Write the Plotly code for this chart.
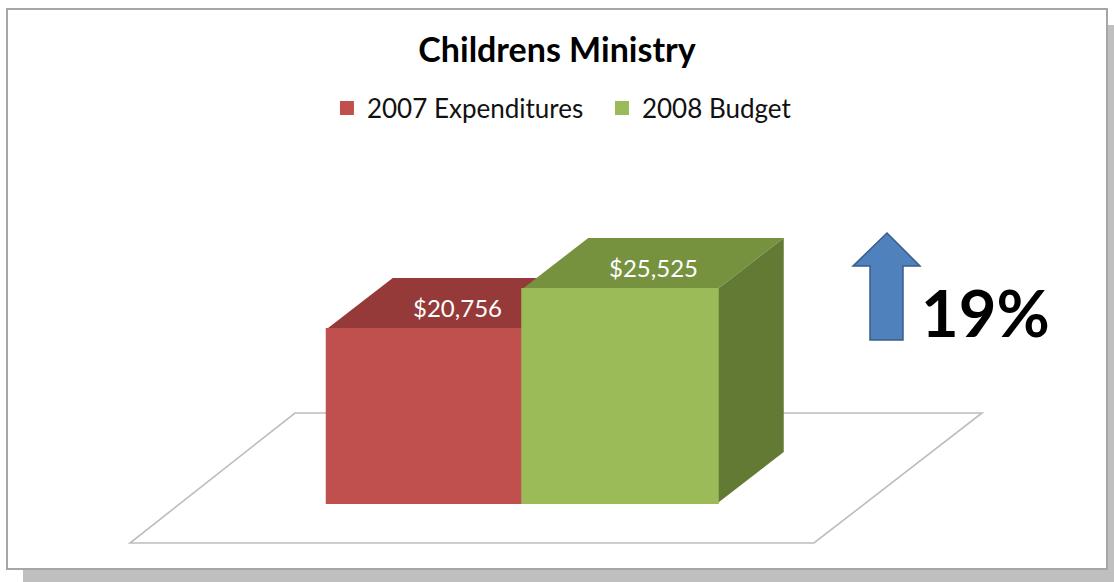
import plotly.graph_objects as go

# ---- data ----
categories = ["2007 Expenditures", "2008 Budget"]
values = [20756, 25525]
change_label = "19%"
title_text = "Childrens Ministry"

# ---- styles / layout constants ----
W, H = 1114, 582
FONT = "Lato"
front_colors = ["#C0504D", "#9BBB59"]
top_colors = ["#953A38", "#77923F"]
side_colors = ["#7E302E", "#637A34"]
X_RANGE = [-2.1714, 3.5269]
Y_RANGE = [-9423, 59995]
BAR_W = 1.0
DEPTH_PX = (66, 51)  # 3D depth offset in pixels (right, up)
DX = DEPTH_PX[0] / W * (X_RANGE[1] - X_RANGE[0])
DY = DEPTH_PX[1] / H * (Y_RANGE[1] - Y_RANGE[0])


def px(x, y):
    """pixel -> paper coords for decorations"""
    return x / W, 1 - y / H


def ppath(points):
    s = ""
    for i, (x, y) in enumerate(points):
        X, Y = px(x, y)
        s += ("M" if i == 0 else "L") + f"{X:.5f},{Y:.5f} "
    return s + "Z"


def dpath(points):
    s = ""
    for i, (x, y) in enumerate(points):
        s += ("M" if i == 0 else "L") + f"{x:.5f},{y:.3f} "
    return s + "Z"


fig = go.Figure()
positions = list(range(len(values)))
for i, (cat, v) in enumerate(zip(categories, values)):
    fig.add_trace(go.Bar(
        x=[positions[i]], y=[v], width=BAR_W, name=cat,
        marker=dict(color=front_colors[i], line=dict(color=front_colors[i], width=2)),
        hoverinfo="skip",
    ))

shapes = []
# drop shadow + frame
shapes.append(dict(type="path", xref="paper", yref="paper",
                   path=ppath([(23, 25), (1114, 25), (1114, 582), (23, 582)]),
                   fillcolor="#BFBFBF", line=dict(width=0), layer="below"))
shapes.append(dict(type="path", xref="paper", yref="paper",
                   path=ppath([(7, 9), (1107, 9), (1107, 569), (7, 569)]),
                   fillcolor="white", line=dict(color="#A6A6A6", width=2), layer="below"))
# floor
shapes.append(dict(type="path", xref="paper", yref="paper",
                   path=ppath([(295, 413), (982, 413), (814, 543), (130, 543)]),
                   fillcolor="white", line=dict(color="#BDBDBD", width=1.6), layer="below"))
# 3D tops / side
for i, v in enumerate(values):
    l = positions[i] - BAR_W / 2
    r = positions[i] + BAR_W / 2
    shapes.append(dict(type="path", xref="x", yref="y",
                       path=dpath([(l, v), (r, v), (r + DX, v + DY), (l + DX, v + DY)]),
                       fillcolor=top_colors[i], line=dict(width=0), layer="below"))
last = len(values) - 1
r = positions[last] + BAR_W / 2
v = values[last]
shapes.append(dict(type="path", xref="x", yref="y",
                   path=dpath([(r, 0), (r, v), (r + DX, v + DY), (r + DX, DY)]),
                   fillcolor=side_colors[last], line=dict(width=0), layer="below"))
# up arrow
shapes.append(dict(type="path", xref="paper", yref="paper",
                   path=ppath([(887, 233), (920, 266), (903, 266), (903, 340),
                               (870, 340), (870, 266), (853, 266)]),
                   fillcolor="#4F81BD", line=dict(color="#385D8A", width=1.5), layer="above"))

annotations = []
for i, v in enumerate(values):
    annotations.append(dict(
        x=positions[i] + DX / 2, y=v + DY / 2 - 500, xref="x", yref="y",
        xanchor="center", yanchor="middle",
        text=f"${v:,}", showarrow=False,
        font=dict(family=FONT, size=24, color="white")))
annotations.append(dict(x=985 / W, y=1 - 312 / H, xref="paper", yref="paper",
                        xanchor="center", yanchor="middle",
                        text=f"<b>{change_label}</b>", showarrow=False,
                        font=dict(family=FONT, size=65, color="black")))

fig.update_layout(
    width=W, height=H,
    margin=dict(l=0, r=0, t=0, b=0),
    paper_bgcolor="white", plot_bgcolor="rgba(0,0,0,0)",
    barmode="overlay",
    title=dict(text=f"<b>{title_text}</b>", x=0.5, xanchor="center",
               y=1 - 50 / H, yanchor="middle", yref="container",
               font=dict(family=FONT, size=34, color="black")),
    legend=dict(orientation="h", x=0.2935, xanchor="left", y=1 - 108 / H, yanchor="middle",
                font=dict(family=FONT, size=26, color="#111111"),
                entrywidth=230, bgcolor="rgba(0,0,0,0)"),
    xaxis=dict(range=X_RANGE, visible=False, fixedrange=True),
    yaxis=dict(range=Y_RANGE, visible=False, fixedrange=True),
    shapes=shapes, annotations=annotations,
    showlegend=True,
)

fig.write_html("out.html")
